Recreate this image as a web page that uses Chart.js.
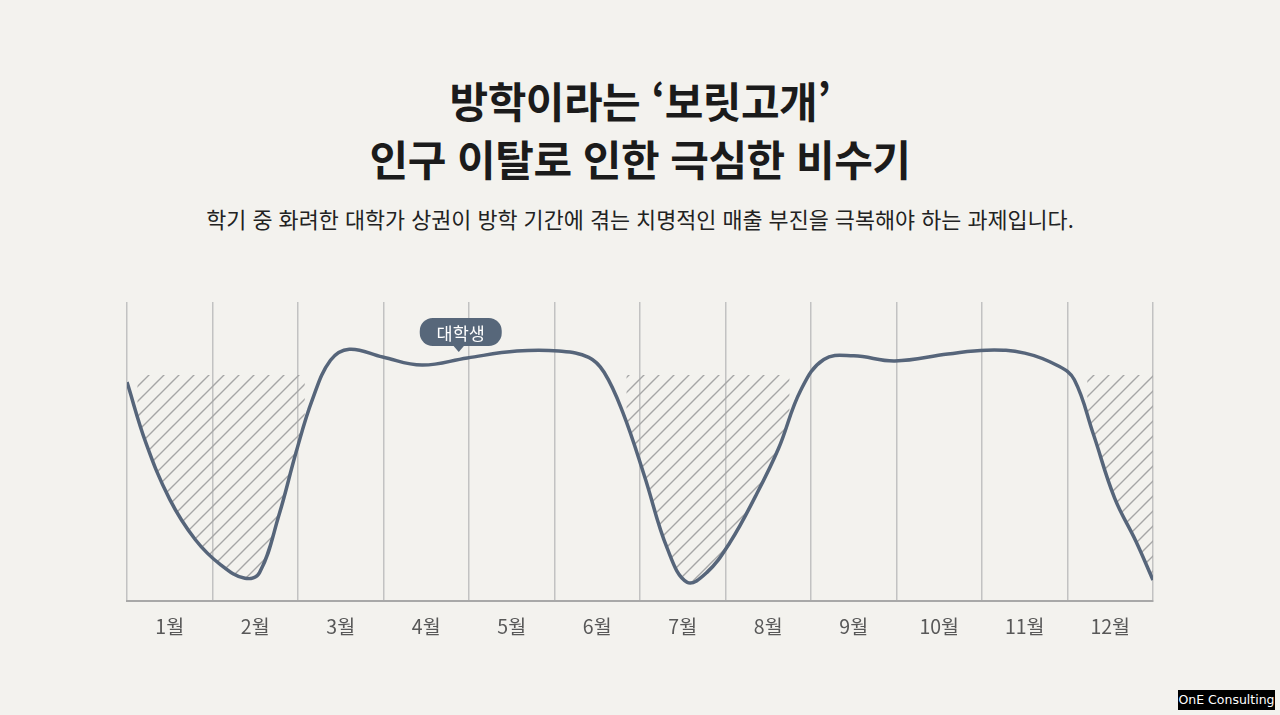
<!DOCTYPE html>
<html lang="ko">
<head>
<meta charset="utf-8">
<script src="https://cdn.jsdelivr.net/npm/chart.js@4.4.1/dist/chart.umd.min.js"></script>
<style>
  html, body { margin: 0; padding: 0; }
  body {
    width: 1280px; height: 715px; overflow: hidden; position: relative;
    background: #f3f2ee;
    font-family: "Noto Sans CJK KR", "Noto Sans", sans-serif;
  }
  #title {
    position: absolute; left: 0; top: 71px; width: 1280px;
    text-align: center; font-size: 42px; font-weight: 700; line-height: 58px;
    color: #1b1b1b; letter-spacing: -0.5px;
  }
  #sub {
    position: absolute; left: 0; top: 204px; width: 1280px;
    text-align: center; font-size: 21.8px; line-height: 30px; color: #222;
  }
  #wrap { position: absolute; left: 107px; top: 282px; width: 1066px; height: 380px; }
  #mark {
    position: absolute; left: 1178px; top: 690px; width: 97px; height: 20px;
    background: #000; color: #fff; font-family: "DejaVu Sans", sans-serif;
    font-size: 12.5px; line-height: 20px; text-align: center;
  }
</style>
</head>
<body>
<div id="title">방학이라는 ‘보릿고개’<br>인구 이탈로 인한 극심한 비수기</div>
<div id="sub">학기 중 화려한 대학가 상권이 방학 기간에 겪는 치명적인 매출 부진을 극복해야 하는 과제입니다.</div>
<div id="wrap"><canvas id="graf_bogae" width="1066" height="380"></canvas></div>
<div id="mark">OnE Consulting</div>
<script>
// 월 라벨
var monthLabels = ['1월', '2월', '3월', '4월', '5월', '6월', '7월', '8월', '9월', '10월', '11월', '12월'];

// 상권 매출 곡선 (x: 월 위치, y: 상대값)
var lineMonths = [0, 0.22, 0.50, 0.80, 1.10, 1.38, 1.55, 1.78, 1.98, 2.17, 2.38, 2.60, 2.99,
  3.45, 3.98, 4.56, 5.05, 5.40, 5.58, 5.80, 6.05, 6.32, 6.55, 6.78, 7.05, 7.35, 7.62,
  7.88, 8.15, 8.50, 8.98, 9.60, 10.05, 10.50, 10.90, 11.08, 11.30, 11.55, 11.80, 12.0];
var lineValues = [73.2, 53.0, 34.0, 20.5, 12.0, 7.6, 9.5, 29.0, 50.0, 67.5, 80.5, 84.2, 81.6,
  78.9, 81.3, 83.6, 83.6, 81.5, 76.5, 63.0, 42.0, 17.5, 6.3, 9.5, 19.5, 35.0, 51.0,
  70.5, 80.8, 82.0, 80.3, 82.6, 83.9, 82.9, 78.5, 74.0, 56.0, 34.5, 20.0, 7.0];

// 방학 구간 (빗금)
var breakStarts = [0.12, 5.84, 11.23];
var breakEnds = [2.08, 7.75, 12.0];
var breakTop = 75.6;

// 말풍선 위치
var bubbleText = '대학생';
var bubbleAt = [3.88, 83.3];

// 빗금 패턴 만들기
function makeHatch() {
  var c = document.createElement('canvas');
  c.width = 15; c.height = 15;
  var g = c.getContext('2d');
  g.strokeStyle = '#a6a6a6';
  g.lineWidth = 1.4;
  g.beginPath();
  g.moveTo(0, 15); g.lineTo(15, 0);
  g.moveTo(-2, 2); g.lineTo(2, -2);
  g.moveTo(13, 17); g.lineTo(17, 13);
  g.stroke();
  return g.createPattern(c, 'repeat');
}
var hatch = makeHatch();

var datasets = [{
  label: '매출',
  data: lineMonths.map(function (m, i) { return { x: m, y: lineValues[i] }; }),
  borderColor: '#56657a',
  borderWidth: 3.5,
  pointRadius: 0,
  tension: 0.4,
  fill: false,
  order: 0
}];
breakStarts.forEach(function (s, i) {
  datasets.push({
    label: '방학' + (i + 1),
    data: [{ x: s, y: breakTop }, { x: breakEnds[i], y: breakTop }],
    borderWidth: 0,
    borderColor: 'rgba(0,0,0,0)',
    pointRadius: 0,
    backgroundColor: hatch,
    fill: { target: 0 },
    order: 1
  });
});

// 말풍선 플러그인
var bubblePlugin = {
  id: 'bubble',
  afterDatasetsDraw: function (chart) {
    var c = chart.ctx;
    var tx = chart.scales.x.getPixelForValue(bubbleAt[0]);
    var ty = chart.scales.y.getPixelForValue(bubbleAt[1]);
    var w = 82, h = 28, r = 13;
    var bottom = ty - 6, top = bottom - h, left = tx - w / 2 + 2;
    c.save();
    c.fillStyle = '#57677a';
    c.beginPath();
    c.roundRect(left, top, w, h, r);
    c.fill();
    c.beginPath();
    c.moveTo(tx - 6, bottom - 1);
    c.lineTo(tx + 6, bottom - 1);
    c.lineTo(tx, bottom + 6);
    c.closePath();
    c.fill();
    c.fillStyle = '#ffffff';
    c.font = '17.5px "Noto Sans CJK KR"';
    c.textAlign = 'center';
    c.textBaseline = 'middle';
    c.fillText(bubbleText, left + w / 2, top + h / 2 + 1);
    c.restore();
  }
};

var ctx = document.getElementById('graf_bogae').getContext('2d');
var chart = new Chart(ctx, {
  type: 'line',
  data: { datasets: datasets },
  options: {
    responsive: false,
    animation: false,
    layout: { padding: { left: 20, right: 20, top: 20, bottom: 21 } },
    plugins: { legend: { display: false }, tooltip: { enabled: false } },
    scales: {
      x: {
        type: 'linear',
        min: 0,
        max: 12,
        afterBuildTicks: function (s) {
          var t = [];
          for (var i = 0; i <= 24; i++) t.push({ value: i / 2 });
          s.ticks = t;
        },
        afterFit: function (s) { s.height = 40; },
        ticks: {
          autoSkip: false,
          maxRotation: 0,
          padding: 14,
          color: '#585858',
          font: { family: '"Noto Sans CJK KR"', size: 19.5 },
          callback: function (v) { return v % 1 ? monthLabels[Math.floor(v)] : ''; }
        },
        grid: {
          drawTicks: false,
          lineWidth: 1.5,
          color: function (c) { return c.tick && c.tick.value % 1 === 0 ? '#c2c2c2' : 'rgba(0,0,0,0)'; }
        },
        border: { display: true, color: '#a8a8a8', width: 2 }
      },
      y: { min: 0, max: 100, display: false }
    }
  },
  plugins: [bubblePlugin]
});
</script>
</body>
</html>
